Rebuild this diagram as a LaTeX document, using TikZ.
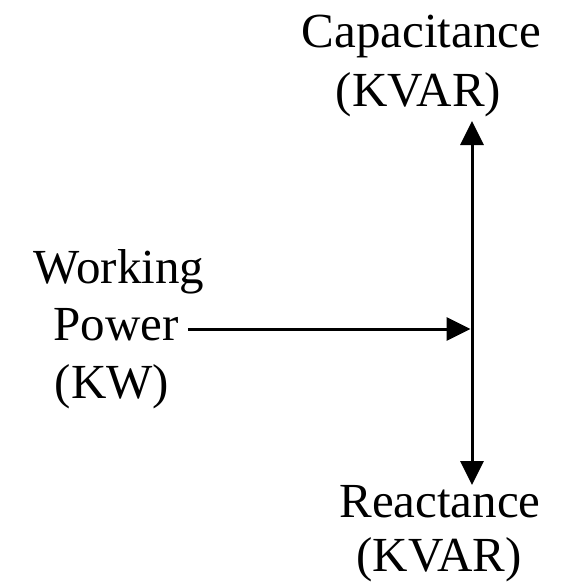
\documentclass[tikz,border=0pt]{standalone}
\usepackage{fontspec}
\setmainfont{Liberation Serif}
\usetikzlibrary{arrows.meta}
\begin{document}
\begin{tikzpicture}[x=1pt,y=-1pt,
  lbl/.style={inner sep=0pt,font=\fontsize{49}{59}\selectfont,align=center,anchor=base},
  arr/.style={line width=3pt,-{Triangle[length=24pt,width=23pt]}}]
\useasboundingbox (0,0) rectangle (567,582);
\node[lbl] (cap) at (421.5,47) {Capacitance};
\node[lbl] (capu) at (418.5,106) {(KVAR)};
\node[lbl] (work) at (119,283) {Working};
\node[lbl] (pow) at (116,340) {Power};
\node[lbl] (kw) at (112,398) {(KW)};
\node[lbl] (rea) at (440,517) {Reactance};
\node[lbl] (reau) at (439,571) {(KVAR)};
\coordinate (mid) at (472,329);
\coordinate (top) at (472,121);
\coordinate (bot) at (472,485);
\draw[arr] (mid) -- (top);
\draw[arr] (mid) -- (bot);
\draw[arr] ([xshift=9pt]pow.east |- mid) -- ([xshift=-1.5pt]mid);
\end{tikzpicture}
\end{document}
